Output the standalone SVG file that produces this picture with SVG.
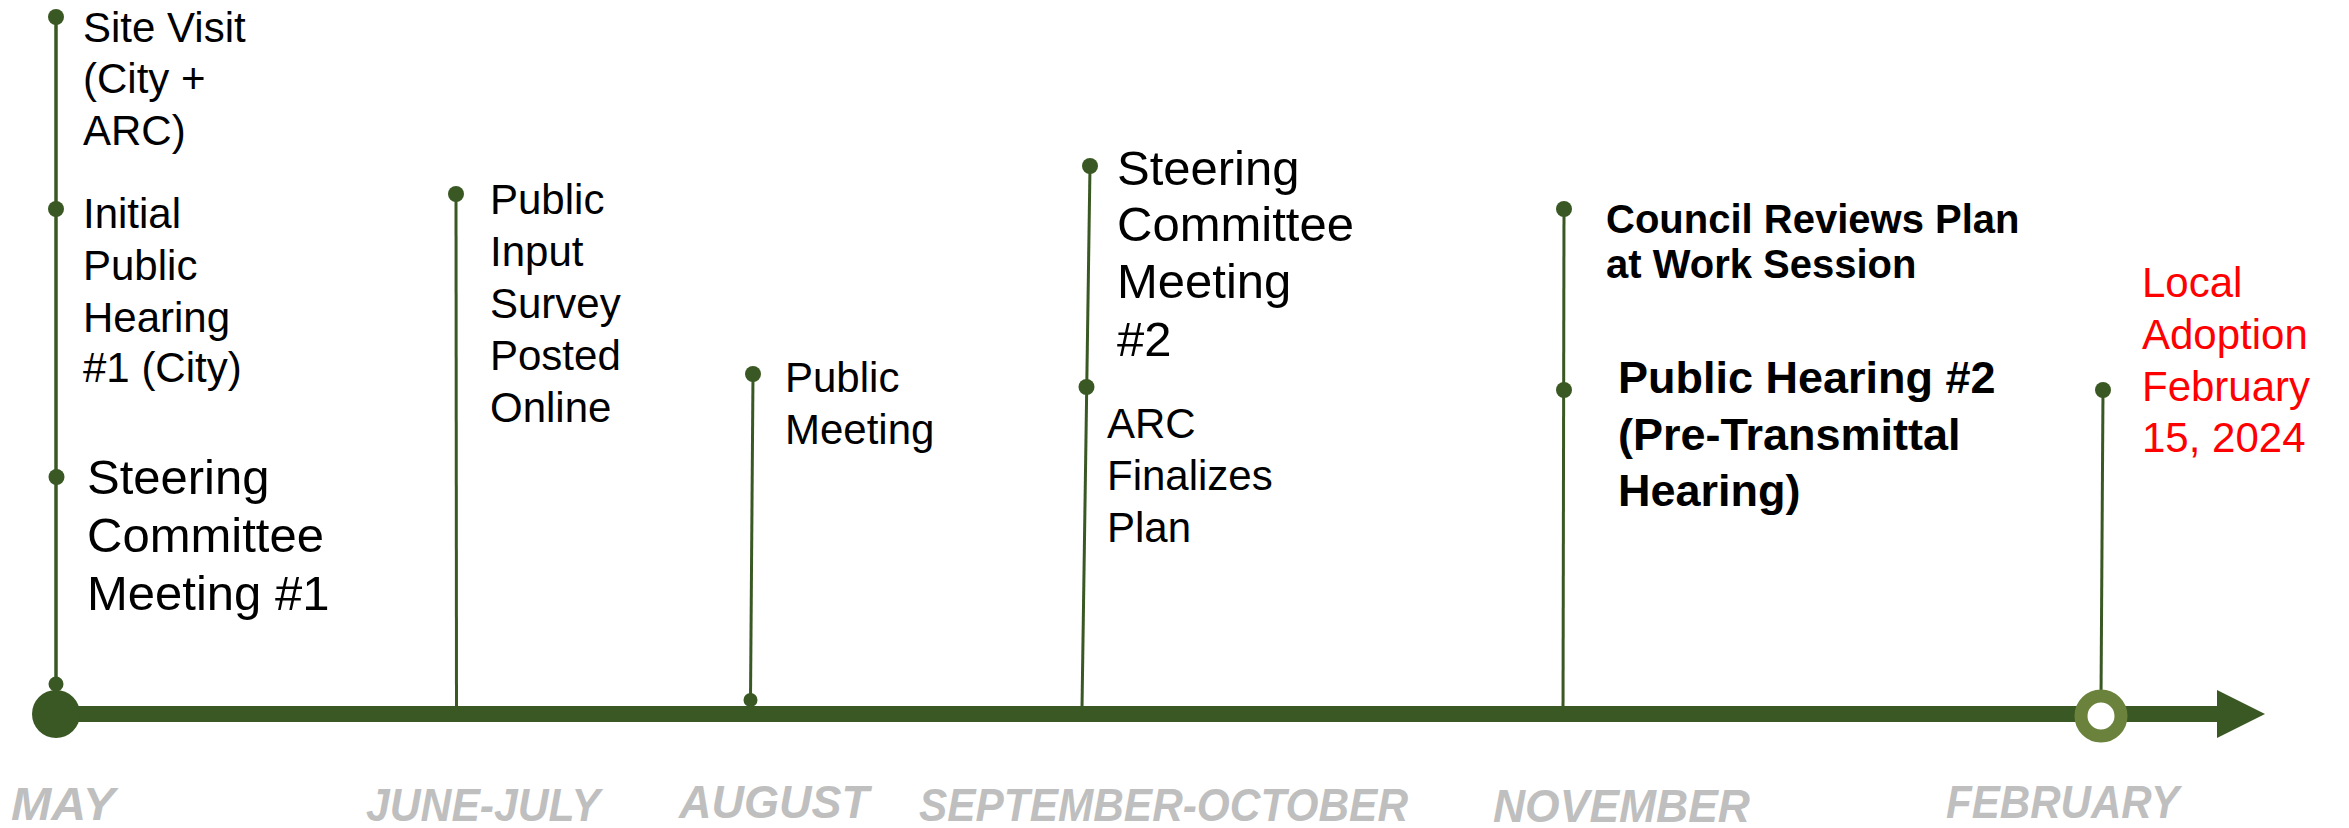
<svg xmlns="http://www.w3.org/2000/svg" width="2349" height="828" viewBox="0 0 2349 828">
<style>
.stem{stroke:#3A5823;stroke-width:3;fill:none}
.dot{fill:#3A5823}
.t{font-family:"Liberation Sans",Arial,sans-serif;font-size:42px;fill:#000}
.tl{font-family:"Liberation Sans",Arial,sans-serif;font-size:49px;fill:#000}
.tb{font-family:"Liberation Sans",Arial,sans-serif;font-weight:bold;fill:#000}
.red{font-family:"Liberation Sans",Arial,sans-serif;font-size:42px;fill:#FF0000}
.month{font-family:"Liberation Sans",Arial,sans-serif;font-weight:bold;font-style:italic;font-size:46px;fill:#BFBFBF}
</style>
<rect width="2349" height="828" fill="#FFFFFF"/>
<g id="connectors">
<line class="stem" x1="56" y1="17" x2="56" y2="700" style="stroke-width:3.5"/>
<line class="stem" x1="456" y1="194" x2="456.5" y2="708"/>
<line class="stem" x1="753" y1="374" x2="750.5" y2="700"/>
<line class="stem" x1="1090" y1="166" x2="1082" y2="708"/>
<line class="stem" x1="1564" y1="209" x2="1563" y2="722"/>
<line class="stem" x1="2103" y1="390" x2="2101" y2="700"/>
</g>
<g id="timeline">
<line x1="56" y1="714" x2="2218" y2="714" stroke="#3A5823" stroke-width="16"/>
<polygon points="2217,690 2265,714 2217,738" fill="#3A5823"/>
<circle cx="56" cy="714" r="24" fill="#3A5823"/>
<circle cx="56" cy="684" r="7.5" fill="#3A5823"/>
<circle cx="750.5" cy="700" r="7" fill="#3A5823"/>
<circle cx="2101" cy="716" r="20" fill="#FFFFFF" stroke="#6A823C" stroke-width="13"/>
</g>
<g id="node-site-visit">
<circle class="dot" cx="56" cy="17" r="8"/>
<text class="t"><tspan x="83" y="42">Site Visit</tspan><tspan x="83" y="93">(City +</tspan><tspan x="83" y="145">ARC)</tspan></text>
</g>
<g id="node-initial-hearing">
<circle class="dot" cx="56" cy="209" r="8"/>
<text class="t"><tspan x="83" y="228">Initial</tspan><tspan x="83" y="280">Public</tspan><tspan x="83" y="332">Hearing</tspan><tspan x="83" y="382">#1 (City)</tspan></text>
</g>
<g id="node-steering-1">
<circle class="dot" cx="56.5" cy="477" r="8"/>
<text class="tl"><tspan x="87" y="494">Steering</tspan><tspan x="87" y="552">Committee</tspan><tspan x="87" y="610">Meeting #1</tspan></text>
</g>
<g id="node-survey">
<circle class="dot" cx="456" cy="194" r="8"/>
<text class="t"><tspan x="490" y="214">Public</tspan><tspan x="490" y="266">Input</tspan><tspan x="490" y="318">Survey</tspan><tspan x="490" y="370">Posted</tspan><tspan x="490" y="422">Online</tspan></text>
</g>
<g id="node-public-meeting">
<circle class="dot" cx="753" cy="374" r="8"/>
<text class="t"><tspan x="785" y="392">Public</tspan><tspan x="785" y="444">Meeting</tspan></text>
</g>
<g id="node-steering-2">
<circle class="dot" cx="1090" cy="166" r="8"/>
<text class="tl"><tspan x="1117" y="185">Steering</tspan><tspan x="1117" y="241">Committee</tspan><tspan x="1117" y="298">Meeting</tspan><tspan x="1117" y="356">#2</tspan></text>
</g>
<g id="node-arc-finalizes">
<circle class="dot" cx="1086.5" cy="387" r="8"/>
<text class="t"><tspan x="1107" y="438">ARC</tspan><tspan x="1107" y="490">Finalizes</tspan><tspan x="1107" y="542">Plan</tspan></text>
</g>
<g id="node-council">
<circle class="dot" cx="1564" cy="209" r="8"/>
<text class="tb" style="font-size:40px"><tspan x="1606" y="233">Council Reviews Plan</tspan><tspan x="1606" y="278">at Work Session</tspan></text>
</g>
<g id="node-public-hearing-2">
<circle class="dot" cx="1564" cy="390" r="8"/>
<text class="tb" style="font-size:45px"><tspan x="1618" y="393">Public Hearing #2</tspan><tspan x="1618" y="450">(Pre-Transmittal</tspan><tspan x="1618" y="506">Hearing)</tspan></text>
</g>
<g id="node-local-adoption">
<circle class="dot" cx="2103" cy="390" r="8"/>
<text class="red"><tspan x="2142" y="297">Local</tspan><tspan x="2142" y="349">Adoption</tspan><tspan x="2142" y="401">February</tspan><tspan x="2142" y="452">15, 2024</tspan></text>
</g>
<g id="months">
<text class="month" x="11" y="820" textLength="104" lengthAdjust="spacingAndGlyphs">MAY</text>
<text class="month" x="366" y="821" textLength="234" lengthAdjust="spacingAndGlyphs">JUNE-JULY</text>
<text class="month" x="679" y="818" textLength="190" lengthAdjust="spacingAndGlyphs">AUGUST</text>
<text class="month" x="919" y="821" textLength="489" lengthAdjust="spacingAndGlyphs">SEPTEMBER-OCTOBER</text>
<text class="month" x="1493" y="822" textLength="257" lengthAdjust="spacingAndGlyphs">NOVEMBER</text>
<text class="month" x="1946" y="818" textLength="233" lengthAdjust="spacingAndGlyphs">FEBRUARY</text>
</g>
</svg>
